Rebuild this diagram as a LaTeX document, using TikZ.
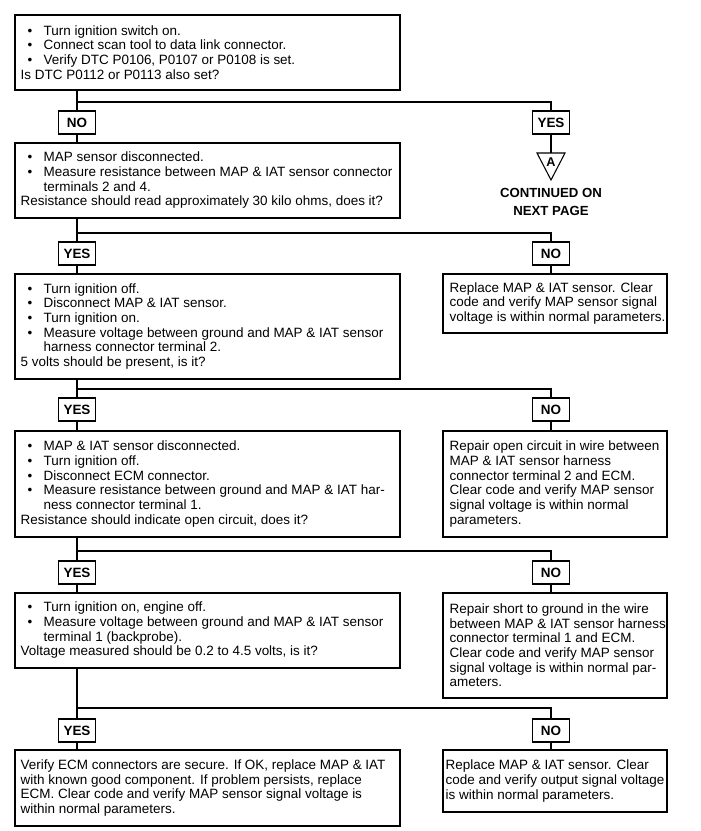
\documentclass[tikz,border=0pt]{standalone}
\usepackage{fontspec}
\setmainfont{Liberation Sans}
\newcommand{\bl}[1]{\makebox[17.25pt][l]{\hspace*{5.25pt}•}#1}
\newcommand{\ct}[1]{\hspace*{17.25pt}#1}
\tikzset{
  box/.style={draw, line width=0.8pt, inner sep=0pt},
  lbl/.style={draw, line width=0.8pt, inner sep=0pt, minimum width=27.75pt, minimum height=17.25pt, font=\fontsize{10.1pt}{11pt}\selectfont\bfseries},
  txt/.style={align=left, inner sep=0pt, anchor=west, font=\fontsize{10.1pt}{11pt}\selectfont},
  conn/.style={line width=0.8pt}
}
\begin{document}
\begin{tikzpicture}[x=0.75pt, y=-0.75pt]
\useasboundingbox (0,0) rectangle (700,831);
% left boxes
\node[box, minimum width=288.75pt, minimum height=56.25pt] (B1) at (207.5,52.5) {};
\node[box, minimum width=288.75pt, minimum height=56.25pt] (B2) at (207.5,180.5) {};
\node[box, minimum width=288.75pt, minimum height=78.75pt] (B3) at (207.5,326.5) {};
\node[box, minimum width=288.75pt, minimum height=79.5pt] (B4) at (207.5,484) {};
\node[box, minimum width=288.75pt, minimum height=56.25pt] (B5) at (207.5,630.5) {};
\node[box, minimum width=288.75pt, minimum height=57pt] (B6) at (207.5,788) {};
% right boxes
\node[box, minimum width=168pt, minimum height=44.25pt] (N1) at (555,303.5) {};
\node[box, minimum width=168pt, minimum height=79.5pt] (N2) at (555,484) {};
\node[box, minimum width=168pt, minimum height=78.75pt] (N3) at (555,645.5) {};
\node[box, minimum width=168pt, minimum height=46.5pt] (N4) at (555,781) {};
% texts
\node[txt] at ([xshift=4.5pt]B1.west) {\bl{Turn ignition switch on.}\\\bl{Connect scan tool to data link connector.}\\\bl{Verify DTC P0106, P0107 or P0108 is set.}\\Is DTC P0112 or P0113 also set?};
\node[txt] at ([xshift=4.5pt]B2.west) {\bl{MAP sensor disconnected.}\\\bl{Measure resistance between MAP \& IAT sensor connector}\\\ct{terminals 2 and 4.}\\Resistance should read approximately 30 kilo ohms, does it?};
\node[txt] at ([xshift=4.5pt]B3.west) {\bl{Turn ignition off.}\\\bl{Disconnect MAP \& IAT sensor.}\\\bl{Turn ignition on.}\\\bl{Measure voltage between ground and MAP \& IAT sensor}\\\ct{harness connector terminal 2.}\\5 volts should be present, is it?};
\node[txt] at ([xshift=4.5pt]B4.west) {\bl{MAP \& IAT sensor disconnected.}\\\bl{Turn ignition off.}\\\bl{Disconnect ECM connector.}\\\bl{Measure resistance between ground and MAP \& IAT har-}\\\ct{ness connector terminal 1.}\\Resistance should indicate open circuit, does it?};
\node[txt] at ([xshift=4.5pt]B5.west) {\bl{Turn ignition on, engine off.}\\\bl{Measure voltage between ground and MAP \& IAT sensor}\\\ct{terminal 1 (backprobe).}\\Voltage measured should be 0.2 to 4.5 volts, is it?};
\node[txt] at ([xshift=4.5pt]B6.west) {Verify ECM connectors are secure. If OK, replace MAP \& IAT\\with known good component. If problem persists, replace\\ECM. Clear code and verify MAP sensor signal voltage is\\within normal parameters.};
\node[txt] at ([xshift=5.25pt]N1.west) {Replace MAP \& IAT sensor. Clear\\code and verify MAP sensor signal\\voltage is within normal parameters.};
\node[txt] at ([xshift=5.25pt]N2.west) {Repair open circuit in wire between\\MAP \& IAT sensor harness\\connector terminal 2 and ECM.\\Clear code and verify MAP sensor\\signal voltage is within normal\\parameters.};
\node[txt] at ([xshift=5.25pt]N3.west) {Repair short to ground in the wire\\between MAP \& IAT sensor harness\\connector terminal 1 and ECM.\\Clear code and verify MAP sensor\\signal voltage is within normal par-\\ameters.};
\node[txt] at ([xshift=2.25pt]N4.west) {Replace MAP \& IAT sensor. Clear\\code and verify output signal voltage\\is within normal parameters.};
% labels
\node[lbl] (L1) at (77,122.5) {NO};
\node[lbl] (R1) at (551,122.5) {YES};
\node[lbl] (L2) at (77,253.5) {YES};
\node[lbl] (R2) at (551,253.5) {NO};
\node[lbl] (L3) at (77,409.5) {YES};
\node[lbl] (R3) at (551,409.5) {NO};
\node[lbl] (L4) at (77,572.5) {YES};
\node[lbl] (R4) at (551,572.5) {NO};
\node[lbl] (L5) at (77,730.5) {YES};
\node[lbl] (R5) at (551,730.5) {NO};
% junctions
\coordinate (J1) at (77,102);
\coordinate (J2) at (77,233);
\coordinate (J3) at (77,389);
\coordinate (J4) at (77,551);
\coordinate (J5) at (77,708);
% connectors
\draw[conn] (B1.south -| L1) -- (L1.north);
\draw[conn] (J1) -| (R1.north);
\draw[conn] (L1.south) -- (L1.south |- B2.north);
\draw[conn] (B2.south -| L2) -- (L2.north);
\draw[conn] (J2) -| (R2.north);
\draw[conn] (L2.south) -- (L2.south |- B3.north);
\draw[conn] (R2.south) -- (R2.south |- N1.north);
\draw[conn] (B3.south -| L3) -- (L3.north);
\draw[conn] (J3) -| (R3.north);
\draw[conn] (L3.south) -- (L3.south |- B4.north);
\draw[conn] (R3.south) -- (R3.south |- N2.north);
\draw[conn] (B4.south -| L4) -- (L4.north);
\draw[conn] (J4) -| (R4.north);
\draw[conn] (L4.south) -- (L4.south |- B5.north);
\draw[conn] (R4.south) -- (R4.south |- N3.north);
\draw[conn] (B5.south -| L5) -- (L5.north);
\draw[conn] (J5) -| (R5.north);
\draw[conn] (L5.south) -- (L5.south |- B6.north);
\draw[conn] (R5.south) -- (R5.south |- N4.north);
% off-page connector
\coordinate (TA) at (551,153);
\draw[conn] (R1.south) -- (TA);
\draw[conn, line join=miter] (537,153) -- (565,153) -- (551,180) -- cycle;
\node[inner sep=0pt, font=\fontsize{9.5pt}{10pt}\selectfont\bfseries] (A) at (551,162) {A};
\node[align=center, inner sep=0pt, font=\fontsize{9.9pt}{13.5pt}\selectfont\bfseries] (CN) at (551,202) {CONTINUED ON\\NEXT PAGE};
\end{tikzpicture}
\end{document}
